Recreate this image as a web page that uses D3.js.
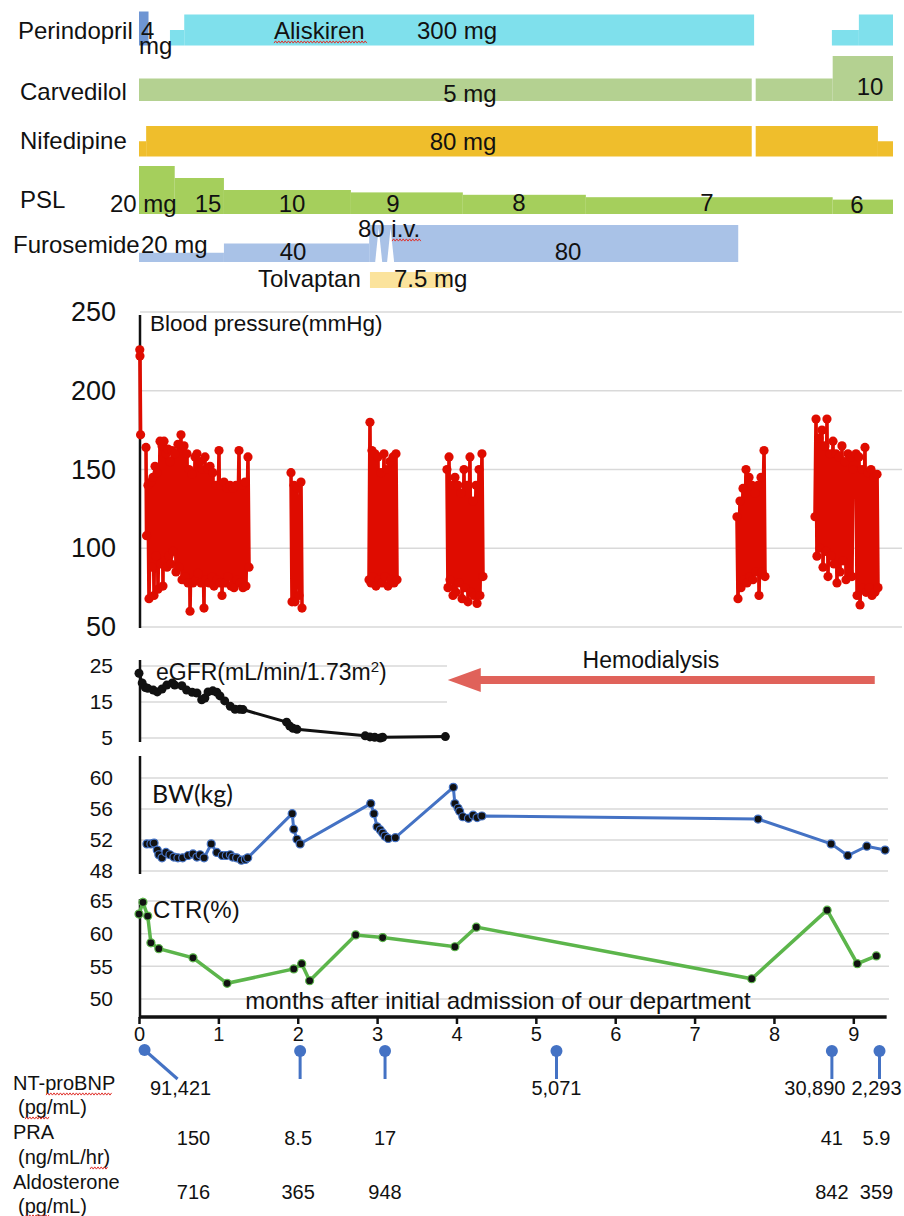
<!DOCTYPE html>
<html><head><meta charset="utf-8">
<script src="https://cdn.jsdelivr.net/npm/d3@7"></script>
<style>
body{margin:0;background:#fff}
svg{display:block}
text{font-family:"Liberation Sans",Arial,Helvetica,sans-serif;fill:#111}
</style>
</head><body>
<svg id="c" width="904" height="1216"></svg>
<script>
// ---------------- DATA ----------------
const monthTicks = [0,1,2,3,4,5,6,7,8,9];
const bpTicks = [50,100,150,200,250];
const egfrTicks = [5,15,25];
const bwTicks = [48,52,56,60];
const ctrTicks = [50,55,60,65];

// drug regimens: [startMonth, endMonth, dose]
const perindopril = [[0.0,0.12,4]];
const aliskiren   = [[0.39,0.57,150],[0.57,7.75,300],[8.73,9.07,150],[9.07,9.5,300]];
const carvedilol  = [[0.0,7.72,5],[7.77,8.74,5],[8.74,9.5,10]];
const nifedipine  = [[0.0,0.09,40],[0.09,7.72,80],[7.77,9.31,80],[9.31,9.5,40]];
const psl         = [[0.0,0.45,20],[0.45,1.07,15],[1.07,2.67,10],[2.67,4.08,9],[4.08,5.63,8],[5.63,8.74,7],[8.74,9.5,6]];
const furosemide  = [[0.0,1.07,20],[1.07,2.90,40],[2.90,7.55,80]];
const furosemideIV = [3.02,3.17];
const tolvaptan   = [[2.91,3.93,7.5]];

// blood pressure readings [month, mmHg], grouped by hospital stay
const bpSeg0 = [[0.01,226],[0.012,222],[0.02,172]];
const bpSeg1 = [[0.088,164],[0.095,108],[0.113,140],[0.126,68],[0.151,142],[0.164,88],[0.176,145],[0.189,70],[0.202,152],[0.214,95],[0.227,148],[0.239,74],[0.265,168],[0.277,90],[0.290,165],[0.302,76],[0.315,168],[0.328,92],[0.340,160],[0.353,88],[0.365,163],[0.378,95],[0.391,155],[0.403,90],[0.416,162],[0.428,98],[0.454,160],[0.466,85],[0.491,166],[0.504,88],[0.529,172],[0.542,80],[0.567,165],[0.580,82],[0.605,160],[0.617,78],[0.630,150],[0.643,60],[0.668,147],[0.680,78],[0.706,158],[0.718,80],[0.731,160],[0.743,84],[0.769,155],[0.781,78],[0.794,150],[0.819,62],[0.832,158],[0.844,80],[0.869,150],[0.882,78],[0.895,152],[0.920,82],[0.932,148],[0.945,76],[0.970,140],[0.983,80],[1.008,162],[1.021,78],[1.033,140],[1.046,70],[1.071,142],[1.084,78],[1.109,138],[1.121,82],[1.147,140],[1.159,76],[1.184,138],[1.197,75],[1.222,140],[1.235,80],[1.260,162],[1.273,78],[1.298,140],[1.310,75],[1.336,142],[1.348,76],[1.373,158],[1.386,88]];
const bpSeg2 = [[1.915,148],[1.928,66],[1.953,140],[1.966,66],[1.991,138],[2.016,70],[2.041,142],[2.054,62]];
const bpSeg3 = [[2.898,80],[2.910,180],[2.923,78],[2.935,162],[2.948,82],[2.973,160],[2.986,76],[3.011,158],[3.024,80],[3.049,148],[3.062,78],[3.087,160],[3.099,82],[3.125,150],[3.137,76],[3.162,155],[3.175,80],[3.200,158],[3.213,78],[3.238,160],[3.251,80]];
const bpSeg4 = [[3.880,150],[3.893,75],[3.906,158],[3.918,80],[3.944,140],[3.956,70],[3.981,145],[3.994,72],[4.019,140],[4.032,78],[4.057,135],[4.070,68],[4.095,150],[4.107,75],[4.133,140],[4.145,66],[4.170,158],[4.183,72],[4.208,130],[4.221,70],[4.246,140],[4.259,65],[4.284,150],[4.296,70],[4.321,160],[4.334,82]];
const bpSeg5 = [[7.534,120],[7.547,68],[7.572,130],[7.585,75],[7.610,138],[7.623,80],[7.648,150],[7.660,78],[7.686,145],[7.698,82],[7.723,140],[7.736,80],[7.761,135],[7.774,85],[7.799,140],[7.812,70],[7.837,145],[7.849,85],[7.875,162],[7.887,82]];
const bpSeg6 = [[8.517,120],[8.530,182],[8.542,95],[8.567,170],[8.580,100],[8.605,175],[8.618,88],[8.643,165],[8.656,98],[8.668,182],[8.681,82],[8.706,160],[8.719,95],[8.744,168],[8.756,90],[8.782,160],[8.794,78],[8.820,158],[8.832,85],[8.857,165],[8.870,92],[8.895,155],[8.908,80],[8.933,160],[8.946,85],[8.971,158],[8.983,82],[8.996,150],[9.034,160],[9.047,70],[9.072,158],[9.085,64],[9.110,150],[9.122,75],[9.147,164],[9.160,72],[9.185,148],[9.198,75],[9.223,150],[9.235,70],[9.261,145],[9.273,72],[9.299,147],[9.311,75]];
const bpSegments = [bpSeg0,bpSeg1,bpSeg2,bpSeg3,bpSeg4,bpSeg5,bpSeg6];

// eGFR [month, mL/min/1.73m2]
const egfr = [[0.00,23.0],[0.04,20.3],[0.08,19.0],[0.11,18.8],[0.18,18.3],[0.23,17.8],[0.29,18.6],[0.35,19.7],[0.42,20.3],[0.45,19.7],[0.54,19.5],[0.60,18.3],[0.67,17.7],[0.73,17.5],[0.79,15.6],[0.83,16.1],[0.87,17.8],[0.93,18.1],[0.98,17.7],[1.02,16.7],[1.08,15.3],[1.15,13.8],[1.21,13.0],[1.27,13.0],[1.31,12.9],[1.86,9.4],[1.90,8.3],[1.94,7.7],[1.99,7.4],[2.85,5.6],[2.91,5.3],[2.97,5.2],[3.04,5.0],[3.07,5.2],[3.86,5.4]];
const hemodialysis = [3.89, 9.27];

// body weight [month, kg]
const bw = [[0.10,51.5],[0.15,51.5],[0.19,51.6],[0.23,50.7],[0.25,50.1],[0.29,49.7],[0.34,50.4],[0.39,50.1],[0.44,49.8],[0.49,49.7],[0.55,49.7],[0.62,50.0],[0.68,50.2],[0.73,49.8],[0.77,50.1],[0.82,49.7],[0.91,51.5],[0.98,50.4],[1.05,50.0],[1.10,50.0],[1.15,50.1],[1.18,49.8],[1.23,49.7],[1.29,49.4],[1.34,49.5],[1.37,49.7],[1.93,55.4],[1.95,53.4],[1.99,52.1],[2.03,51.5],[2.92,56.7],[2.96,55.4],[3.00,53.7],[3.04,53.3],[3.07,52.9],[3.10,52.5],[3.14,52.2],[3.23,52.3],[3.96,58.8],[3.98,56.7],[4.02,56.1],[4.04,55.7],[4.08,55.0],[4.15,54.8],[4.21,55.2],[4.26,54.9],[4.32,55.1],[7.80,54.7],[8.72,51.5],[8.93,50.0],[9.17,51.2],[9.40,50.7]];

// cardiothoracic ratio [month, %]
const ctr = [[0.00,63.0],[0.05,64.8],[0.11,62.7],[0.15,58.6],[0.25,57.7],[0.68,56.3],[1.11,52.4],[1.95,54.6],[2.05,55.4],[2.15,52.8],[2.73,59.8],[3.07,59.4],[3.98,58.0],[4.25,61.0],[7.72,53.1],[8.67,63.6],[9.05,55.4],[9.29,56.6]];

// laboratory table
const labMonths   = [0.07,2.03,3.10,5.26,8.73,9.33];
const ntProBNP    = ["91,421","","","5,071","30,890","2,293"];
const pra         = ["150","8.5","17","","41","5.9"];
const aldosterone = ["716","365","948","","842","359"];

// ---------------- DRAW ----------------
const svg = d3.select("#c");
svg.append("rect").attr("width",904).attr("height",1216).attr("fill","#fff");
const x = d3.scaleLinear().domain([0,9.5]).range([139,893]);
const F = '"Liberation Sans",Arial,Helvetica,sans-serif';

function txt(s, px, py, size, anchor, extra){
  const t = svg.append("text").attr("x",px).attr("y",py).attr("font-size",size)
    .attr("text-anchor",anchor||"start").text(s);
  if(extra) extra(t);
  return t;
}
function squiggle(x0,x1,y){
  const pts=[]; let k=0;
  for(let xx=x0; xx<=x1; xx+=1.6){ pts.push([xx, y+(k%2?-1.1:1.1)]); k++; }
  svg.append("path").attr("d",d3.line()(pts)).attr("fill","none").attr("stroke","#e0302a").attr("stroke-width",1);
}

// drug rows
function drugRow(segs, color, baseline, scale){
  svg.append("g").selectAll("rect").data(segs).join("rect")
    .attr("x",d=>x(d[0])).attr("width",d=>x(d[1])-x(d[0]))
    .attr("y",d=>baseline-scale(d[2])).attr("height",d=>scale(d[2]))
    .attr("fill",color);
}
drugRow(aliskiren,"#7fe0ec",45.5,d3.scaleLinear().domain([0,300]).range([0,31]));
drugRow(perindopril,"#6e95d3",45.5,d3.scaleLinear().domain([0,4]).range([0,34]));
drugRow(carvedilol,"#b4d191",101,d3.scaleLinear().domain([0,10]).range([0,45]));
drugRow(nifedipine,"#efbe2c",156.5,d3.scaleLinear().domain([0,80]).range([0,30.5]));
drugRow(psl,"#a5cf5c",214,d3.scaleLinear().domain([0,20]).range([0,48]));
drugRow(furosemide,"#a9c2e7",262,d3.scaleLinear().domain([0,80]).range([0,37]));
drugRow(tolvaptan,"#fbe39c",288,d3.scaleLinear().domain([0,7.5]).range([0,16]));
// i.v. notches in furosemide bar
furosemideIV.forEach(m=>{
  const cx = x(m);
  svg.append("path").attr("d",`M${cx-3.5},262L${cx},228L${cx+3.5},262Z`).attr("fill","#fff");
});

const DS = 24;
txt("Perindopril",18,38.5,DS);
// "4 mg" stacked as one text element
txt("",141,38.5,DS,"start",t=>{
  t.append("tspan").attr("x",141).text("4");
  t.append("tspan").attr("x",139).attr("dy",15.5).text("mg");
});
txt("Aliskiren",274,38.5,DS); squiggle(274,367,42);
txt("300 mg",417,38.5,DS);
txt("Carvedilol",20,100,DS);
txt("5 mg",470,102,DS,"middle");
txt("10",870,95,DS,"middle");
txt("Nifedipine",20,149,DS);
txt("80 mg",463,150,DS,"middle");
txt("PSL",20,208,DS);
txt("20 mg",110,212,DS);
txt("15",208,212,DS,"middle");
txt("10",292,212,DS,"middle");
txt("9",393,212,DS,"middle");
txt("8",519,211,DS,"middle");
txt("7",707,211,DS,"middle");
txt("6",857,213,DS,"middle");
txt("Furosemide",13,253,DS);
txt("20 mg",141,253,DS);
txt("40",293,260,DS,"middle");
txt("80 i.v.",358,237,DS); squiggle(392,421,240);
txt("80",568,260,DS,"middle");
txt("Tolvaptan",258,287,DS);
txt("7.5 mg",394,287,DS);

// ---------- Blood pressure ----------
const yBP = d3.scaleLinear().domain([50,250]).range([627,312]);
svg.append("g").selectAll("line").data(bpTicks).join("line")
  .attr("x1",140).attr("x2",902).attr("y1",d=>yBP(d)).attr("y2",d=>yBP(d))
  .attr("stroke","#d9d9d9").attr("stroke-width",1.5);
const gBPa = svg.append("g").attr("transform","translate(140,0)")
  .call(d3.axisLeft(yBP).tickValues(bpTicks).tickSize(0).tickPadding(24));
gBPa.select(".domain").remove();
gBPa.selectAll("text").attr("font-size",27).attr("font-family",F).attr("fill","#111");
svg.append("line").attr("x1",140).attr("x2",140).attr("y1",315).attr("y2",628).attr("stroke","#111").attr("stroke-width",2.5);
txt("Blood pressure(mmHg)",150,331,22.5);
const bpLine = d3.line().x(d=>x(d[0])).y(d=>yBP(d[1]));
const gBP = svg.append("g");
bpSegments.forEach(seg=>{
  gBP.append("path").attr("d",bpLine(seg)).attr("fill","none").attr("stroke","#df0c00").attr("stroke-width",3.6).attr("stroke-linejoin","round");
  gBP.append("g").selectAll("circle").data(seg).join("circle")
    .attr("cx",d=>x(d[0])).attr("cy",d=>yBP(d[1])).attr("r",4.6).attr("fill","#df0c00");
});

// ---------- eGFR ----------
const yE = d3.scaleLinear().domain([5,25]).range([738,666]);
svg.append("g").selectAll("line").data(egfrTicks).join("line")
  .attr("x1",140).attr("x2",447).attr("y1",d=>yE(d)).attr("y2",d=>yE(d))
  .attr("stroke","#d9d9d9").attr("stroke-width",1.5);
const gEa = svg.append("g").attr("transform","translate(140,0)")
  .call(d3.axisLeft(yE).tickValues(egfrTicks).tickSize(0).tickPadding(27));
gEa.select(".domain").remove();
gEa.selectAll("text").attr("font-size",21).attr("font-family",F).attr("fill","#111");
svg.append("line").attr("x1",140).attr("x2",140).attr("y1",660).attr("y2",742).attr("stroke","#111").attr("stroke-width",2.5);
txt("",156,680,23,"start",t=>{
  t.append("tspan").text("eGFR(mL/min/1.73m");
  t.append("tspan").text("2").attr("font-size",15).attr("dy",-8);
  t.append("tspan").text(")").attr("dy",8);
});
const eLine = d3.line().x(d=>x(d[0])).y(d=>yE(d[1]));
svg.append("path").attr("d",eLine(egfr)).attr("fill","none").attr("stroke","#111").attr("stroke-width",3);
svg.append("g").selectAll("circle").data(egfr).join("circle")
  .attr("cx",d=>x(d[0])).attr("cy",d=>yE(d[1])).attr("r",4.5).attr("fill","#111");
// hemodialysis arrow
const hy = 680;
svg.append("line").attr("x1",x(hemodialysis[1])).attr("x2",x(hemodialysis[0])+30).attr("y1",hy).attr("y2",hy)
  .attr("stroke","#e0625a").attr("stroke-width",8);
svg.append("path").attr("d",`M${x(hemodialysis[0])},${hy}L${x(hemodialysis[0])+33},${hy-12}L${x(hemodialysis[0])+33},${hy+12}Z`).attr("fill","#e0625a");
txt("Hemodialysis",651,668,23,"middle");

// ---------- Body weight ----------
const yW = d3.scaleLinear().domain([48,60]).range([871,778]);
svg.append("g").selectAll("line").data(bwTicks).join("line")
  .attr("x1",140).attr("x2",888).attr("y1",d=>yW(d)).attr("y2",d=>yW(d))
  .attr("stroke","#d9d9d9").attr("stroke-width",1.5);
const gWa = svg.append("g").attr("transform","translate(140,0)")
  .call(d3.axisLeft(yW).tickValues(bwTicks).tickSize(0).tickPadding(27));
gWa.select(".domain").remove();
gWa.selectAll("text").attr("font-size",21).attr("font-family",F).attr("fill","#111");
svg.append("line").attr("x1",140).attr("x2",140).attr("y1",756).attr("y2",874).attr("stroke","#111").attr("stroke-width",2.5);
txt("BW(kg)",152,803,25,"start",t=>t.style("font-family","Lato,'Open Sans',sans-serif"));
const wLine = d3.line().x(d=>x(d[0])).y(d=>yW(d[1]));
svg.append("path").attr("d",wLine(bw)).attr("fill","none").attr("stroke","#4472c4").attr("stroke-width",3);
svg.append("g").selectAll("circle").data(bw).join("circle")
  .attr("cx",d=>x(d[0])).attr("cy",d=>yW(d[1])).attr("r",4).attr("fill","#111").attr("stroke","#4472c4").attr("stroke-width",1.2);

// ---------- CTR ----------
const yC = d3.scaleLinear().domain([50,65]).range([999,901]);
svg.append("g").selectAll("line").data(ctrTicks).join("line")
  .attr("x1",140).attr("x2",889).attr("y1",d=>yC(d)).attr("y2",d=>yC(d))
  .attr("stroke","#d9d9d9").attr("stroke-width",1.5);
const gCa = svg.append("g").attr("transform","translate(140,0)")
  .call(d3.axisLeft(yC).tickValues(ctrTicks).tickSize(0).tickPadding(27));
gCa.select(".domain").remove();
gCa.selectAll("text").attr("font-size",21).attr("font-family",F).attr("fill","#111");
svg.append("line").attr("x1",140).attr("x2",140).attr("y1",899).attr("y2",1018).attr("stroke","#111").attr("stroke-width",2.5);
txt("CTR(%)",153,918,24);
const cLine = d3.line().x(d=>x(d[0])).y(d=>yC(d[1]));
svg.append("path").attr("d",cLine(ctr)).attr("fill","none").attr("stroke","#5cb54b").attr("stroke-width",3.5);
svg.append("g").selectAll("circle").data(ctr).join("circle")
  .attr("cx",d=>x(d[0])).attr("cy",d=>yC(d[1])).attr("r",4).attr("fill","#111").attr("stroke","#5cb54b").attr("stroke-width",1.2);
txt("months after initial admission of our department",498,1009,24,"middle");

// ---------- X axis ----------
const gX = svg.append("g").attr("transform","translate(0,1017)")
  .call(d3.axisBottom(x).tickValues(monthTicks).tickSize(7).tickPadding(3).tickFormat(d3.format("d")));
gX.select(".domain").remove();
gX.selectAll(".tick line").attr("stroke","#111").attr("stroke-width",2.5);
gX.selectAll("text").attr("font-size",20).attr("font-family",F).attr("fill","#111");
svg.append("line").attr("x1",x(0)).attr("x2",x(9.42)).attr("y1",1017).attr("y2",1017).attr("stroke","#111").attr("stroke-width",3.5);

// ---------- Lab table ----------
const pinCol = "#4472c4";
labMonths.forEach((m,i)=>{
  const px = x(m);
  const dx = i===0 ? 33 : 0;
  const cy = i===0 ? 1050 : 1051;
  svg.append("line").attr("x1",px).attr("y1",cy).attr("x2",px+dx).attr("y2",1079).attr("stroke",pinCol).attr("stroke-width",3);
  svg.append("circle").attr("cx",px).attr("cy",cy).attr("r",6).attr("fill",pinCol);
});
const LS = 20;
txt("NT-proBNP",13,1090,LS); squiggle(46,112,1094);
txt("(pg/mL)",18,1114,LS); squiggle(25,50,1118);
txt("PRA",13,1139,LS);
txt("(ng/mL/hr)",18,1164,LS); squiggle(90,108,1168);
txt("Aldosterone",13,1189,LS);
txt("(pg/mL)",18,1213,LS); squiggle(25,50,1216);
const colShift = [[36,49],[-2,-2],[0,0],[0,0],[-17,0],[-3,-3]];
labMonths.forEach((m,i)=>{
  const px = x(m);
  txt(ntProBNP[i],px+colShift[i][0],1095,LS,"middle");
  txt(pra[i],px+colShift[i][1],1145,LS,"middle");
  txt(aldosterone[i],px+colShift[i][1],1199,LS,"middle");
});
</script>
</body></html>
